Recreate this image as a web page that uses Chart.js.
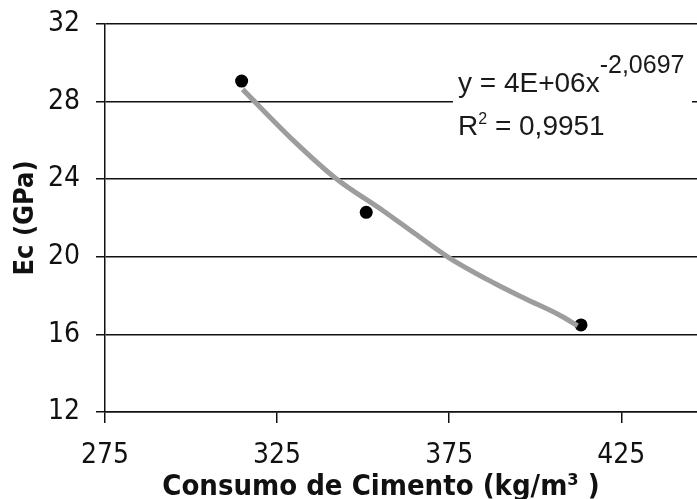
<!DOCTYPE html>
<html>
<head>
<meta charset="utf-8">
<script src="https://cdn.jsdelivr.net/npm/chart.js@4.4.1/dist/chart.umd.min.js"></script>
<style>
  html, body { margin: 0; padding: 0; background: #fff; }
  #wrap { width: 697px; height: 499px; }
</style>
</head>
<body>
<div id="wrap"><canvas id="ecChart" width="697" height="499"></canvas></div>
<script>
// measured points
const cimento = [314.7, 350.9, 413.3];
const ec = [29.06, 22.29, 16.49];

// power trend line
const trendX = [315, 330, 342, 356, 365, 375, 388, 397, 407, 412.3];
const trendY = [28.63, 25.95, 24.05, 22.35, 21.2, 19.95, 18.65, 17.85, 17.0, 16.45];

const xTicks = [275, 325, 375, 425];
const yTicks = [12, 16, 20, 24, 28, 32];

const eqMain = 'y = 4E+06x';
const eqExp = '-2,0697';
const r2Main = 'R';
const r2Exp = '2';
const r2Rest = ' = 0,9951';
const xTitle = 'Consumo de Cimento (kg/m³ )';
const yTitle = 'Ec (GPa)';

const axisColor = '#111';
const tickFont = { family: '"DejaVu Sans Condensed", "DejaVu Sans"', size: 28 };

// trendline equation box + x axis title
const extras = {
  id: 'extras',
  afterDraw(chart) {
    const ctx = chart.ctx;
    ctx.save();
    ctx.fillStyle = '#fff';
    ctx.fillRect(453, 40, 239, 125);

    ctx.fillStyle = '#1a1a1a';
    ctx.textBaseline = 'alphabetic';
    ctx.textAlign = 'left';
    ctx.font = '28px "Liberation Sans"';
    ctx.fillText(eqMain, 458, 92);
    let w = ctx.measureText(eqMain).width;
    ctx.font = '25px "Liberation Sans"';
    ctx.fillText(eqExp, 458 + w, 73);

    ctx.font = '28px "Liberation Sans"';
    ctx.fillText(r2Main, 458, 135);
    w = ctx.measureText(r2Main).width;
    ctx.font = '16px "Liberation Sans"';
    ctx.fillText(r2Exp, 458 + w, 124);
    const w2 = ctx.measureText(r2Exp).width;
    ctx.font = '28px "Liberation Sans"';
    ctx.fillText(r2Rest, 458 + w + w2, 135);

    ctx.fillStyle = '#111';
    ctx.textAlign = 'center';
    ctx.font = 'bold 29px "DejaVu Sans Condensed", "DejaVu Sans"';
    ctx.fillText(xTitle, 381, 495);
    ctx.restore();
  }
};

new Chart(document.getElementById('ecChart'), {
  type: 'scatter',
  data: {
    datasets: [
      {
        label: 'trend',
        data: trendX.map((x, i) => ({ x: x, y: trendY[i] })),
        showLine: true,
        borderColor: '#9d9d9d',
        borderWidth: 5,
        pointRadius: 0,
        cubicInterpolationMode: 'monotone',
        order: 0,
      },
      {
        label: 'Ec',
        data: cimento.map((x, i) => ({ x: x, y: ec[i] })),
        backgroundColor: '#000',
        borderWidth: 0,
        pointRadius: 6.5,
        order: 1,
      },
    ],
  },
  options: {
    responsive: false,
    animation: false,
    layout: { autoPadding: false, padding: { top: 24, right: 0, bottom: 0, left: 0 } },
    plugins: { legend: { display: false }, tooltip: { enabled: false } },
    scales: {
      x: {
        type: 'linear',
        min: 275,
        max: 447,
        afterBuildTicks: (s) => { s.ticks = xTicks.map((v) => ({ value: v })); },
        afterFit: (s) => { s.height = 87; s.paddingLeft = 0; s.paddingRight = 0; },
        grid: { drawOnChartArea: false, tickLength: 11, color: axisColor, lineWidth: 1.5 },
        border: { color: axisColor, width: 1.5 },
        ticks: { font: tickFont, color: '#111', padding: 16, maxRotation: 0, autoSkip: false },
      },
      y: {
        min: 12,
        max: 32,
        afterBuildTicks: (s) => { s.ticks = yTicks.map((v) => ({ value: v })); },
        afterFit: (s) => { s.width = 105; s.paddingTop = 0; s.paddingBottom = 0; },
        grid: { color: axisColor, lineWidth: 1.5, tickLength: 9 },
        border: { color: axisColor, width: 1.5 },
        ticks: { font: tickFont, color: '#111', padding: 16 },
        title: {
          display: true,
          text: yTitle,
          color: '#111',
          font: { family: '"DejaVu Sans Condensed", "DejaVu Sans"', size: 27, weight: 'bold' },
          padding: { top: 10, bottom: 0 },
        },
      },
    },
  },
  plugins: [extras],
});
</script>
</body>
</html>
